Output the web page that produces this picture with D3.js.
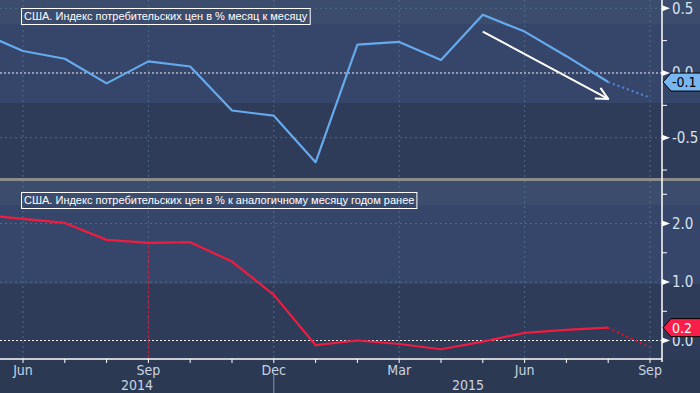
<!DOCTYPE html>
<html lang="ru">
<head>
  <meta charset="UTF-8">
  <title>США. Индекс потребительских цен</title>
  <script src="https://d3js.org/d3.v7.min.js"></script>
  <style>
    body {
      margin: 0;
      background-color: #2c3953;
      overflow: hidden;
    }
    svg {
      display: block;
      font-family: "Liberation Sans Narrow", "DejaVu Sans Condensed", "Arial Narrow", sans-serif;
    }
    .grid line {
      stroke: #4d6b86;
      stroke-width: 1;
      stroke-dasharray: 2,3;
    }
    .axis-label {
      fill: #d5e2f0;
      font-size: 15px;
    }
    .tag-label {
      font-size: 14px;
    }
    .month-label {
      fill: #c9d4e2;
      font-size: 14px;
    }
    .title-text {
      fill: #ffffff;
      font-family: "Liberation Sans", sans-serif;
      font-size: 11px;
    }
  </style>
</head>
<body>
  <svg width="700" height="393"></svg>

  <script>
    // months shown on the chart (May 2014 is off the left edge)
    const months = ["2014-05", "2014-06", "2014-07", "2014-08", "2014-09", "2014-10", "2014-11", "2014-12",
                    "2015-01", "2015-02", "2015-03", "2015-04", "2015-05", "2015-06", "2015-07", "2015-08", "2015-09"];
    const monthNames = ["Jan", "Feb", "Mar", "Apr", "May", "Jun", "Jul", "Aug", "Sep", "Oct", "Nov", "Dec"];

    // CPI month over month, %, May 2014 .. Aug 2015, then the dotted estimate for Sep 2015
    const momValues = [0.31, 0.17, 0.11, -0.08, 0.09, 0.05, -0.29, -0.33, -0.69, 0.22, 0.24, 0.10, 0.45, 0.32, 0.13, -0.07];
    const momForecast = -0.19;

    // CPI year over year, %, same months
    const yoyValues = [2.15, 2.08, 2.01, 1.72, 1.67, 1.68, 1.35, 0.78, -0.08, 0.00, -0.06, -0.15, -0.02, 0.13, 0.18, 0.22];
    const yoyForecast = -0.12;

    const momTicks = [0.5, 0.0, -0.5];
    const momMinor = [0.25, -0.25, -0.75];
    const yoyTicks = [2.0, 1.0, 0.0];
    const yoyMinor = [2.5, 1.5, 0.5];

    const titleTop = "США. Индекс потребительских цен в % месяц к месяцу";
    const titleBottom = "США. Индекс потребительских цен в % к аналогичному месяцу годом ранее";

    // trend arrow drawn on the top panel: [month, value] start and end
    const arrowFrom = ["2015-05", 0.32];
    const arrowTo = ["2015-08", -0.20];

    // cursor line on the bottom panel
    const markerMonth = "2014-09";

    const svg = d3.select("svg");
    const W = 700, H = 393;
    const plotRight = 662;
    const topPanel = {y0: 0, y1: 178};
    const botPanel = {y0: 181, y1: 359};

    const x = d3.scaleLinear()
      .domain([1, 16])          // index of Jun 2014 .. Sep 2015 in months[]
      .range([23, 650]);
    const xm = m => x(months.indexOf(m));

    const yTop = d3.scaleLinear().domain([-0.5, 0.5]).range([137.7, 8.3]);
    const yBot = d3.scaleLinear().domain([0, 2]).range([340.5, 223.5]);

    const defs = svg.append("defs");
    defs.append("clipPath").attr("id", "clipTop")
      .append("rect").attr("x", 0).attr("y", topPanel.y0).attr("width", plotRight).attr("height", topPanel.y1 - topPanel.y0);
    defs.append("clipPath").attr("id", "clipBot")
      .append("rect").attr("x", 0).attr("y", botPanel.y0).attr("width", plotRight).attr("height", botPanel.y1 - botPanel.y0);
    defs.append("marker")
      .attr("id", "arrowHead")
      .attr("viewBox", "0 0 14 14")
      .attr("refX", 13).attr("refY", 7)
      .attr("markerWidth", 14).attr("markerHeight", 14)
      .attr("markerUnits", "userSpaceOnUse")
      .attr("orient", "auto")
      .append("path")
      .attr("d", "M1,1 L13,7 L1,13")
      .attr("fill", "none")
      .attr("stroke", "#ffffff")
      .attr("stroke-width", 2);

    // background bands
    svg.append("rect").attr("width", W).attr("height", H).attr("fill", "#2c3953");
    function panelBackground(p) {
      const bands = [
        {from: 0, to: 24, color: "#3c4c6c"},
        {from: 24, to: 103, color: "#36466a"},
        {from: 103, to: p.y1 - p.y0, color: "#2e3b59"}
      ];
      svg.append("g").selectAll("rect")
        .data(bands)
        .enter().append("rect")
          .attr("x", 0)
          .attr("y", d => p.y0 + d.from)
          .attr("width", W)
          .attr("height", d => d.to - d.from)
          .attr("fill", d => d.color);
    }
    panelBackground(topPanel);
    panelBackground(botPanel);

    // separator between panels
    svg.append("rect")
      .attr("x", 0).attr("y", topPanel.y1)
      .attr("width", W).attr("height", botPanel.y0 - topPanel.y1)
      .attr("fill", "#8c8c8c");

    const quarterMonths = months.filter(m => [3, 6, 9, 12].includes(+m.slice(5)) && months.indexOf(m) > 0);

    function drawGrid(p, y, ticks) {
      const g = svg.append("g").attr("class", "grid");
      g.selectAll(".v")
        .data(quarterMonths)
        .enter().append("line")
          .attr("x1", d => xm(d)).attr("x2", d => xm(d))
          .attr("y1", p.y0).attr("y2", p.y1);
      g.selectAll(".h")
        .data(ticks.filter(t => t !== 0))
        .enter().append("line")
          .attr("x1", 0).attr("x2", plotRight)
          .attr("y1", d => y(d)).attr("y2", d => y(d));
      svg.append("line")
        .attr("x1", 0).attr("x2", plotRight)
        .attr("y1", y(0)).attr("y2", y(0))
        .attr("stroke", "#f0f0f0")
        .attr("stroke-width", 1)
        .attr("stroke-dasharray", "2,2");
    }
    drawGrid(topPanel, yTop, momTicks);
    drawGrid(botPanel, yBot, yoyTicks);

    // cursor marker on bottom panel
    svg.append("line")
      .attr("x1", xm(markerMonth)).attr("x2", xm(markerMonth))
      .attr("y1", yBot(yoyValues[months.indexOf(markerMonth)]))
      .attr("y2", botPanel.y1)
      .attr("stroke", "#e0102c")
      .attr("stroke-width", 1)
      .attr("stroke-dasharray", "2,2");

    // series
    function drawSeries(values, forecast, y, clip, color, dotColor) {
      const pts = values.map((v, i) => [x(i), y(v)]);
      const line = d3.line();
      const g = svg.append("g").attr("clip-path", `url(#${clip})`);
      g.append("path")
        .attr("d", line(pts))
        .attr("fill", "none")
        .attr("stroke", color)
        .attr("stroke-width", 2.2)
        .attr("stroke-linejoin", "round");
      g.append("path")
        .attr("d", line([pts[pts.length - 1], [x(values.length), y(forecast)]]))
        .attr("fill", "none")
        .attr("stroke", dotColor)
        .attr("stroke-width", 2)
        .attr("stroke-dasharray", "2,3");
    }
    drawSeries(momValues, momForecast, yTop, "clipTop", "#66aaee", "#4f86d8");
    drawSeries(yoyValues, yoyForecast, yBot, "clipBot", "#f01c40", "#e0102c");

    // trend arrow
    svg.append("line")
      .attr("x1", xm(arrowFrom[0])).attr("y1", yTop(arrowFrom[1]))
      .attr("x2", xm(arrowTo[0])).attr("y2", yTop(arrowTo[1]))
      .attr("stroke", "#ffffff")
      .attr("stroke-width", 2)
      .attr("marker-end", "url(#arrowHead)");

    // right axes
    function drawYAxis(p, y, ticks, minor) {
      const g = svg.append("g");
      g.append("line")
        .attr("x1", plotRight).attr("x2", plotRight)
        .attr("y1", p.y0).attr("y2", p.y1 + 3)
        .attr("stroke", "#ffffff").attr("stroke-width", 1.5);
      g.selectAll(".tri")
        .data(ticks)
        .enter().append("path")
          .attr("d", d => `M${plotRight},${y(d) - 3}L${plotRight + 8},${y(d)}L${plotRight},${y(d) + 3}Z`)
          .attr("fill", "#ffffff");
      g.selectAll(".minor")
        .data(minor)
        .enter().append("line")
          .attr("x1", plotRight).attr("x2", plotRight + 5)
          .attr("y1", d => y(d)).attr("y2", d => y(d))
          .attr("stroke", "#ffffff").attr("stroke-width", 1);
      g.selectAll(".lbl")
        .data(ticks)
        .enter().append("text")
          .attr("class", "axis-label")
          .attr("x", plotRight + 10)
          .attr("y", d => y(d))
          .attr("dy", "0.36em")
          .text(d => d.toFixed(1));
    }
    drawYAxis(topPanel, yTop, momTicks, momMinor);
    drawYAxis(botPanel, yBot, yoyTicks, yoyMinor);

    // x axis
    const xg = svg.append("g");
    xg.append("line")
      .attr("x1", 0).attr("x2", plotRight)
      .attr("y1", botPanel.y1).attr("y2", botPanel.y1)
      .attr("stroke", "#ffffff").attr("stroke-width", 1.5);
    xg.selectAll(".mt")
      .data(months.slice(1))
      .enter().append("line")
        .attr("x1", d => xm(d)).attr("x2", d => xm(d))
        .attr("y1", botPanel.y1).attr("y2", botPanel.y1 + 4)
        .attr("stroke", "#ffffff").attr("stroke-width", 1);
    xg.selectAll(".ml")
      .data(quarterMonths)
      .enter().append("text")
        .attr("class", "month-label")
        .attr("x", d => xm(d))
        .attr("y", 375)
        .attr("text-anchor", "middle")
        .text(d => monthNames[+d.slice(5) - 1]);

    const yearSplit = xm("2014-12");
    xg.append("line")
      .attr("x1", yearSplit).attr("x2", yearSplit)
      .attr("y1", 373).attr("y2", H)
      .attr("stroke", "#8494aa").attr("stroke-width", 1);
    const years = [
      {label: "2014", from: 0, to: yearSplit},
      {label: "2015", from: yearSplit, to: plotRight}
    ];
    xg.selectAll(".yl")
      .data(years)
      .enter().append("text")
        .attr("class", "month-label")
        .attr("x", d => (d.from + d.to) / 2)
        .attr("y", 390)
        .attr("text-anchor", "middle")
        .text(d => d.label);

    // last value tags
    function drawTag(value, y, fill, textColor) {
      const cy = y(value);
      const g = svg.append("g");
      g.append("path")
        .attr("d", `M${plotRight + 1},${cy}L${plotRight + 9},${cy - 9}L${W + 2},${cy - 9}L${W + 2},${cy + 9}L${plotRight + 9},${cy + 9}Z`)
        .attr("fill", fill)
        .attr("stroke", "#000000")
        .attr("stroke-width", 1);
      g.append("text")
        .attr("class", "tag-label")
        .style("fill", textColor)
        .attr("x", plotRight + 10)
        .attr("y", cy)
        .attr("dy", "0.36em")
        .text(value.toFixed(1));
    }
    drawTag(momValues[momValues.length - 1], yTop, "#78b6f2", "#000000");
    drawTag(yoyValues[yoyValues.length - 1], yBot, "#fa1e4a", "#ffffff");

    // panel titles
    function drawTitle(text, top) {
      const g = svg.append("g");
      const t = g.append("text")
        .attr("class", "title-text")
        .attr("x", 24)
        .attr("y", top + 12)
        .text(text);
      const bb = t.node().getBBox();
      g.insert("rect", "text")
        .attr("x", 21.5)
        .attr("y", top + 0.5)
        .attr("width", bb.width + 5)
        .attr("height", 16)
        .attr("fill", "none")
        .attr("stroke", "#ffffff")
        .attr("stroke-width", 1);
    }
    drawTitle(titleTop, 8);
    drawTitle(titleBottom, 192);
  </script>
</body>
</html>
